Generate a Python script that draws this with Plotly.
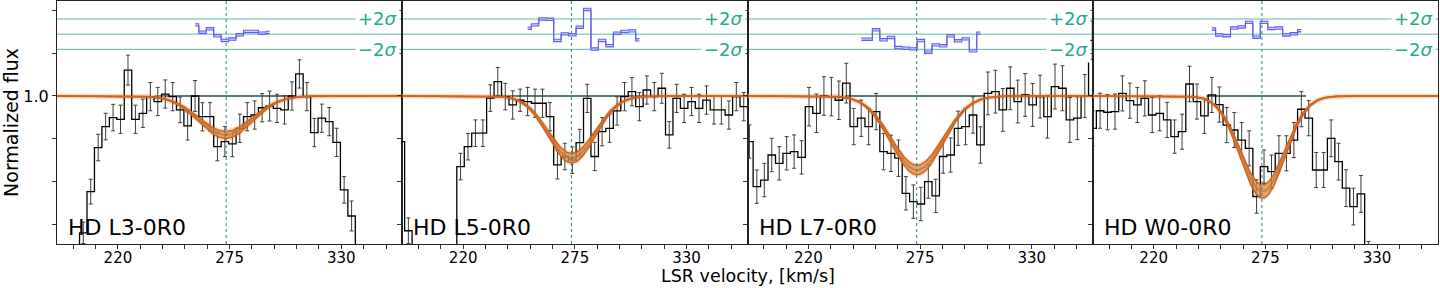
import numpy as np
import plotly.graph_objects as go

# ------------------------------------------------------------------ data
panel_names = ["HD L3-0R0", "HD L5-0R0", "HD L7-0R0", "HD W0-0R0"]
bin_width_kms = 3.67
first_bin_edge = [193.76, 187.5, 189.1, 188.1]

flux_l3 = [0.20, 0.20, 0.36, 0.553, 0.759, 0.857, 0.899, 0.891, 1.121, 0.891,
           0.919, 0.997, 0.974, 1.009, 0.997, 0.935, 0.860, 1.000, 0.903, 0.903,
           0.763, 0.787, 0.776, 0.849, 0.903, 0.911, 0.945, 0.953, 0.942, 0.935,
           1.000, 1.103, 0.997, 0.829, 0.896, 0.880, 0.783, 0.561, 0.439, 0.20,
           0.20, 0.20, 0.20, 0.20, 0.20, 0.20]
err_l3 = [0.06, 0.06, 0.05, 0.058, 0.062, 0.062, 0.062, 0.066, 0.070, 0.066,
          0.066, 0.066, 0.066, 0.066, 0.066, 0.060, 0.066, 0.072, 0.066, 0.066,
          0.066, 0.070, 0.060, 0.066, 0.066, 0.066, 0.066, 0.070, 0.066, 0.066,
          0.066, 0.066, 0.066, 0.066, 0.066, 0.066, 0.066, 0.062, 0.070, 0.06,
          0.06, 0.06, 0.06, 0.06, 0.06, 0.06]

flux_l5 = [0.787, 0.37, 0.20, 0.20, 0.20, 0.20, 0.20, 0.20, 0.670, 0.763,
           0.826, 0.826, 0.990, 1.067, 0.997, 0.958, 0.980, 0.974, 0.966, 0.966,
           0.903, 0.678, 0.717, 0.700, 0.782, 0.989, 0.717, 0.833, 0.849, 0.930,
           0.997, 1.020, 0.950, 1.028, 0.997, 1.036, 0.818, 0.989, 0.942, 0.974,
           0.942, 0.981, 0.935, 0.935, 0.911, 0.997, 0.950, 0.940]
err_l5 = [0.064, 0.060, 0.06, 0.06, 0.06, 0.06, 0.06, 0.06, 0.062, 0.062,
          0.062, 0.062, 0.062, 0.066, 0.062, 0.066, 0.052, 0.066, 0.066, 0.066,
          0.066, 0.066, 0.062, 0.062, 0.062, 0.066, 0.066, 0.066, 0.066, 0.066,
          0.066, 0.066, 0.066, 0.066, 0.066, 0.070, 0.062, 0.066, 0.066, 0.066,
          0.066, 0.066, 0.066, 0.066, 0.066, 0.066, 0.066, 0.066]

flux_l7 = [0.787, 0.576, 0.607, 0.724, 0.685, 0.732, 0.740, 0.713, 0.950, 0.919,
           1.000, 0.997, 0.980, 1.060, 0.857, 0.896, 0.857, 0.927, 0.740, 0.732,
           0.709, 0.545, 0.506, 0.495, 0.600, 0.533, 0.717, 0.724, 0.849, 0.857,
           0.911, 0.771, 1.012, 1.020, 0.935, 1.036, 0.974, 1.005, 0.958, 0.997,
           0.903, 1.044, 1.036, 0.888, 0.896, 1.000, 1.260, 0.930]
err_l7 = [0.078, 0.078, 0.078, 0.078, 0.078, 0.078, 0.078, 0.078, 0.090, 0.090,
          0.090, 0.090, 0.090, 0.093, 0.085, 0.085, 0.085, 0.085, 0.085, 0.085,
          0.085, 0.078, 0.078, 0.078, 0.078, 0.078, 0.078, 0.080, 0.080, 0.085,
          0.085, 0.085, 0.100, 0.100, 0.100, 0.100, 0.100, 0.100, 0.100, 0.100,
          0.100, 0.105, 0.105, 0.105, 0.100, 0.100, 0.090, 0.090]

flux_w0 = [0.849, 0.931, 0.924, 0.927, 1.012, 0.978, 0.958, 0.989, 0.911, 0.919,
           0.888, 0.810, 0.833, 1.056, 0.974, 0.907, 1.005, 0.960, 0.864, 0.841,
           0.794, 0.755, 0.530, 0.670, 0.646, 0.732, 0.732, 0.794, 0.938, 0.896,
           0.654, 0.654, 0.802, 0.693, 0.569, 0.483, 0.542, 0.260, 0.20, 0.20,
           0.20, 0.20, 0.20, 0.20, 0.20, 0.20]
err_w0 = [0.082, 0.082, 0.082, 0.082, 0.082, 0.082, 0.082, 0.082, 0.082, 0.082,
          0.082, 0.078, 0.082, 0.083, 0.082, 0.082, 0.082, 0.082, 0.082, 0.082,
          0.082, 0.082, 0.078, 0.078, 0.078, 0.082, 0.082, 0.082, 0.082, 0.082,
          0.082, 0.082, 0.086, 0.086, 0.086, 0.086, 0.086, 0.060, 0.06, 0.06,
          0.06, 0.06, 0.06, 0.06, 0.06, 0.06]

# residuals (in units of sigma), starting at bin index resid_first_bin
resid_first_bin = [17, 17, 15, 16]
resid_l3 = [1.22, 0.26, 0.70, -0.22, -0.83, -0.65, -0.09, 0.35, 0.35, 0.13, 0.22]
resid_l5 = [0.78, 1.22, 2.00, 1.96, -0.83, 0.04, -0.09, 0.91, 3.26, -1.96,
            -0.83, -1.52, 0.13, 0.35, 0.43, -0.74]
resid_l7 = [-0.66, -0.66, 0.57, -0.75, -0.44, -1.76, -1.85, -1.94, -0.84, -2.38,
            -1.41, -1.54, -0.22, -0.88, -0.62, -2.20, 0.13]
resid_w0 = [0.68, -0.10, -0.20, 0.80, 0.95, 1.55, -0.40, 1.55, 0.75, 0.80,
            -0.10, 0.05, 0.45]

# Gaussian absorption fits
fit_center = [273.0, 273.4, 273.5, 273.6]
fit_depth = [0.182, 0.291, 0.346, 0.447]
fit_depth_err = [0.016, 0.022, 0.022, 0.030]
fit_sigma = [13.2, 11.5, 12.7, 10.9]
cont_window = [(238.0, 306.0), (235.5, 311.0), (238.0, 307.0), (246.0, 295.0)]
v_ref = 273.3

x_range = [190, 360]
y_range = [0.308, 1.444]
x_tick_vals = [198, 209, 220, 231, 242, 253, 264, 275, 286, 297, 308, 319, 330, 341, 352]
x_tick_major = [220, 275, 330]
y_tick_vals = [0.4, 0.6, 0.8, 1.0, 1.2, 1.4]
y_tick_major = [1.0]

resid_offset = 1.289
resid_sigma = 0.0355
cont_halo = 0.012

fluxes = [flux_l3, flux_l5, flux_l7, flux_w0]
errs = [err_l3, err_l5, err_l7, err_w0]
resids = [resid_l3, resid_l5, resid_l7, resid_w0]

# ------------------------------------------------------------------ style
FONT = "DejaVu Sans"
ORANGE = "rgb(205,100,35)"
BAND_FILL = "rgba(214,150,85,0.75)"
HALO_FILL = "rgba(250,180,115,0.45)"
TEAL_LINE = "rgb(95,185,175)"
TEAL_TEXT = "rgb(38,168,145)"
TEAL_DOT = "rgb(40,135,130)"
DARK_CONT = "rgb(30,80,78)"
RES_BLUE = "rgb(95,95,240)"
RES_FILL = "rgba(190,190,255,0.7)"

fig = go.Figure()
annotations = []
shapes = []
layout_axes = {}

for i in range(4):
    sfx = "" if i == 0 else str(i + 1)
    xa, ya = "x" + sfx, "y" + sfx
    flux = np.array(fluxes[i])
    err = np.array(errs[i])
    centers = first_bin_edge[i] + bin_width_kms * (np.arange(len(flux)) + 0.5)

    # residual reference lines (+2, 0, -2 sigma)
    for k in (-2, 0, 2):
        yk = resid_offset + k * resid_sigma
        shapes.append(dict(type="line", xref=xa + " domain", x0=0, x1=1, yref=ya, y0=yk, y1=yk,
                           line=dict(color=TEAL_LINE, width=1), layer="below"))
    # continuum segment
    shapes.append(dict(type="line", xref=xa, x0=cont_window[i][0], x1=cont_window[i][1],
                       yref=ya, y0=1.0, y1=1.0, line=dict(color=DARK_CONT, width=1.6), layer="below"))

    # model
    vm = np.linspace(x_range[0], x_range[1], 341)
    g = np.exp(-(vm - fit_center[i]) ** 2 / (2 * fit_sigma[i] ** 2))
    model = 1 - fit_depth[i] * g
    upper = 1 - (fit_depth[i] - fit_depth_err[i]) * g
    lower = 1 - (fit_depth[i] + fit_depth_err[i]) * g

    # halo band
    fig.add_trace(go.Scatter(x=vm, y=lower - cont_halo, mode="lines", line=dict(width=0),
                             xaxis=xa, yaxis=ya, showlegend=False, hoverinfo="skip"))
    fig.add_trace(go.Scatter(x=vm, y=upper + cont_halo, mode="lines", line=dict(width=0),
                             fill="tonexty", fillcolor=HALO_FILL,
                             xaxis=xa, yaxis=ya, showlegend=False, hoverinfo="skip"))

    # data
    fig.add_trace(go.Scatter(x=centers, y=flux, mode="lines", line=dict(color="black", width=1.3, shape="hvh"),
                             error_y=dict(type="data", array=err, color="rgb(60,60,60)", thickness=1, width=2),
                             xaxis=xa, yaxis=ya, showlegend=False, hoverinfo="skip"))

    # fit band
    fig.add_trace(go.Scatter(x=vm, y=lower, mode="lines", line=dict(color=ORANGE, width=1.5),
                             xaxis=xa, yaxis=ya, showlegend=False, hoverinfo="skip"))
    fig.add_trace(go.Scatter(x=vm, y=upper, mode="lines", line=dict(color=ORANGE, width=1.5),
                             fill="tonexty", fillcolor=BAND_FILL,
                             xaxis=xa, yaxis=ya, showlegend=False, hoverinfo="skip"))
    fig.add_trace(go.Scatter(x=vm, y=model, mode="lines", line=dict(color=ORANGE, width=2.2),
                             opacity=0.6,
                             xaxis=xa, yaxis=ya, showlegend=False, hoverinfo="skip"))

    # residuals
    r = np.array(resids[i])
    j0 = resid_first_bin[i]
    rx = centers[j0:j0 + len(r)]
    ry = resid_offset + r * resid_sigma
    fig.add_trace(go.Scatter(x=rx, y=ry - 0.0055, mode="lines", line=dict(color=RES_BLUE, width=1.1, shape="hvh"),
                             xaxis=xa, yaxis=ya, showlegend=False, hoverinfo="skip"))
    fig.add_trace(go.Scatter(x=rx, y=ry + 0.0055, mode="lines", line=dict(color=RES_BLUE, width=1.1, shape="hvh"),
                             fill="tonexty", fillcolor=RES_FILL,
                             xaxis=xa, yaxis=ya, showlegend=False, hoverinfo="skip"))

    # reference velocity
    shapes.append(dict(type="line", xref=xa, x0=v_ref, x1=v_ref, yref=ya + " domain", y0=0, y1=1,
                       line=dict(color=TEAL_DOT, width=1, dash="dot"), layer="above"))

    # labels
    annotations.append(dict(text=panel_names[i], xref=xa + " domain", yref=ya + " domain",
                            x=0, y=0, xanchor="left", yanchor="bottom", xshift=9, yshift=2,
                            showarrow=False, font=dict(family=FONT, size=22, color="black")))
    for k, lab in ((2, "+2<i>σ</i>"), (-2, "−2<i>σ</i>")):
        annotations.append(dict(text=lab, xref=xa + " domain", yref=ya, x=1,
                                y=resid_offset + k * resid_sigma, xanchor="right", yanchor="middle",
                                xshift=-2, showarrow=False, bgcolor="white", borderpad=2,
                                font=dict(family=FONT, size=18, color=TEAL_TEXT)))

    dom = [i / 4, (i + 1) / 4]
    layout_axes["xaxis" + sfx] = dict(
        domain=dom, range=x_range, anchor=ya, tickmode="array", tickvals=x_tick_vals,
        ticktext=[str(v) if v in x_tick_major else "" for v in x_tick_vals],
        ticks="outside", ticklen=4, tickcolor="#333", tickwidth=1, ticklabelstandoff=-4,
        showline=True, mirror=True, linecolor="#222", linewidth=1,
        showgrid=False, zeroline=False,
        tickfont=dict(family=FONT, size=15, color="black"))
    layout_axes["yaxis" + sfx] = dict(
        domain=[0, 1], range=y_range, anchor=xa, tickmode="array", tickvals=y_tick_vals,
        ticktext=[("%.1f" % v) if v in y_tick_major else "" for v in y_tick_vals],
        showticklabels=(i == 0),
        ticks="outside", ticklen=4, tickcolor="#333", tickwidth=1,
        showline=True, mirror=True, linecolor="#222", linewidth=1,
        showgrid=False, zeroline=False,
        tickfont=dict(family=FONT, size=16, color="black"))

annotations.append(dict(text="Normalized flux", xref="paper", yref="paper", x=-0.0337, y=0.5,
                        xanchor="center", yanchor="middle", textangle=-90, showarrow=False,
                        font=dict(family=FONT, size=19, color="black")))
annotations.append(dict(text="LSR velocity, [km/s]", xref="paper", yref="paper", x=0.5, y=-0.181,
                        xanchor="center", yanchor="bottom", showarrow=False,
                        font=dict(family=FONT, size=17.5, color="black")))

fig.update_layout(
    width=1440, height=288,
    margin=dict(l=57, r=2, t=1, b=44),
    paper_bgcolor="white", plot_bgcolor="white",
    font=dict(family=FONT, color="black"),
    showlegend=False,
    annotations=annotations, shapes=shapes,
    **layout_axes,
)

fig.write_html("out.html", config={"displayModeBar": False, "staticPlot": True},
               post_script="document.body.style.margin='0px';document.body.style.padding='0px';")
